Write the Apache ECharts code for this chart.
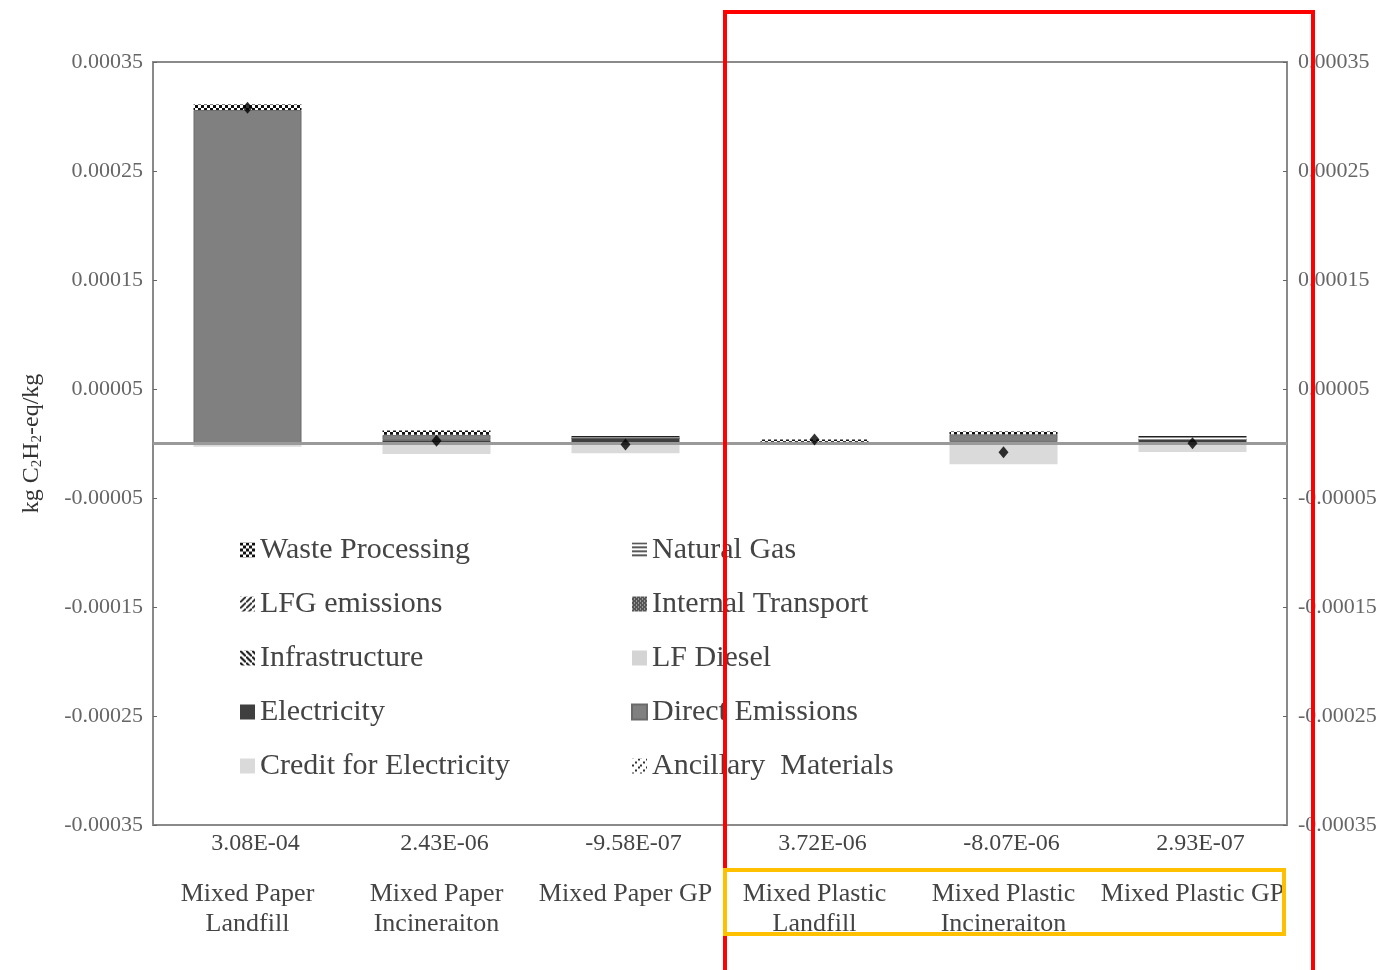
<!DOCTYPE html>
<html><head><meta charset="utf-8">
<script src="https://cdn.jsdelivr.net/npm/echarts@6/dist/echarts.min.js"></script>
<style>html,body{margin:0;padding:0;background:#fff}#c{width:1381px;height:970px}</style>
</head><body><div id="c"></div>
<script>
const categories = ['Mixed Paper\nLandfill','Mixed Paper\nIncineraiton','Mixed Paper GP','Mixed Plastic\nLandfill','Mixed Plastic\nIncineraiton','Mixed Plastic GP'];
const totals = [3.08e-4, 2.43e-6, -9.58e-7, 3.72e-6, -8.07e-6, 2.93e-7];

const electricity        = [0, 3e-6, 5e-6, 0, 1.5e-6, 4e-6];
const directEmissions    = [3.06e-4, 5e-6, 0, 0, 7e-6, 0];
const naturalGas         = [0, 0, 3e-6, 0, 0, 4e-6];
const internalTransport  = [0, 0, 0, 0, 0, 0];
const infrastructure     = [0, 0, 0, 1.52e-6, 0, 0];
const lfgEmissions       = [0, 0, 0, 0, 0, 0];
const wasteProcessing    = [5e-6, 4e-6, 0, 2.2e-6, 2.5e-6, 0];
const ancillaryMaterials = [0, 0, 0, 0, 0, 0];
const lfDiesel           = [0, 0, 0, 0, 0, 0];
const creditElectricity  = [-3e-6, -9.57e-6, -8.958e-6, 0, -1.907e-5, -7.707e-6];

const yMin = -0.00035, yMax = 0.00035, yStep = 0.0001;

function pat(size, draw){
  const c = document.createElement('canvas'); c.width = c.height = size;
  const g = c.getContext('2d'); draw(g, size);
  return {image: c, repeat: 'repeat'};
}
const P = {
  waste: pat(6, (g)=>{g.fillStyle='#fff';g.fillRect(0,0,6,6);g.fillStyle='#111';g.fillRect(0,0,3,3);g.fillRect(3,3,3,3);}),
  lfg: pat(6, (g)=>{g.fillStyle='#fff';g.fillRect(0,0,6,6);g.strokeStyle='#111';g.lineWidth=1.6;g.beginPath();g.moveTo(0,6);g.lineTo(6,0);g.stroke();}),
  infra: pat(6, (g)=>{g.fillStyle='#fff';g.fillRect(0,0,6,6);g.strokeStyle='#111';g.lineWidth=2;g.beginPath();g.moveTo(0,0);g.lineTo(6,6);g.stroke();}),
  gas: pat(4, (g)=>{g.fillStyle='#fff';g.fillRect(0,0,4,4);g.fillStyle='#222';g.fillRect(0,0,4,1.5);}),
  transport: pat(4, (g)=>{g.fillStyle='#555';g.fillRect(0,0,4,4);g.fillStyle='#ddd';g.fillRect(0,0,1,1);g.fillRect(2,2,1,1);}),
  ancillary: pat(8, (g)=>{g.fillStyle='#fff';g.fillRect(0,0,8,8);g.fillStyle='#333';g.fillRect(0,6,2,2);g.fillRect(3,3,2,2);g.fillRect(6,0,2,2);})
};

function fmtExp(v){
  const s = v.toExponential(2).toUpperCase();
  return s.replace(/E([+-])(\d)$/, 'E$10$2');
}

const serif = 'Liberation Serif';
function bar(name, data, color, extra){
  return Object.assign({
    name, type: 'bar', stack: 'total', data, barWidth: 108,
    itemStyle: {color}, emphasis: {disabled: true}
  }, extra || {});
}

const series = [
  bar('Electricity', electricity, '#3f3f3f'),
  bar('Direct Emissions', directEmissions, '#808080', {itemStyle:{color:'#808080', borderColor:'#6a6a6a', borderWidth:1}}),
  bar('Natural Gas', naturalGas, P.gas),
  bar('Internal Transport', internalTransport, P.transport),
  bar('Infrastructure', infrastructure, P.infra),
  bar('LFG emissions', lfgEmissions, P.lfg),
  bar('Waste Processing', wasteProcessing, P.waste),
  bar('Ancillary  Materials', ancillaryMaterials, P.ancillary),
  bar('LF Diesel', lfDiesel, '#d4d4d4'),
  bar('Credit for Electricity', creditElectricity, '#dadada', {
    markLine: {silent: true, symbol: 'none', label: {show: false},
      lineStyle: {color: '#9a9a9a', width: 3, type: 'solid'}, data: [{yAxis: 0}]}
  }),
  {name: 'Total', type: 'scatter', data: totals, symbol: 'diamond', symbolSize: [10, 12],
   itemStyle: {color: '#000'}, z: 5, emphasis: {disabled: true}}
];

const chart = echarts.init(document.getElementById('c'), null, {renderer: 'canvas'});
const yLabel = {fontFamily: serif, fontSize: 22, color: '#666', formatter: v => v.toFixed(5)};
chart.setOption({
  animation: false,
  backgroundColor: '#fff',
  grid: {left: 153, right: 94, top: 62, bottom: 145, show: true, borderColor: '#8a8a8a', borderWidth: 2},
  xAxis: {
    type: 'category', data: categories,
    axisLine: {show: true, lineStyle: {color: '#8a8a8a', width: 2}},
    axisTick: {show: false},
    axisLabel: {
      interval: 0, margin: 4,
      formatter: (val, i) => '{v|' + fmtExp(totals[i]) + '}\n{g| }\n' + val.split('\n').map(t => '{n|' + t + '}').join('\n'),
      rich: {
        v: {fontFamily: serif, fontSize: 24, color: '#444', lineHeight: 30, padding: [0, 0, 0, 16]},
        g: {fontSize: 10, lineHeight: 20},
        n: {fontFamily: serif, fontSize: 26, color: '#444', lineHeight: 30}
      }
    }
  },
  yAxis: [
    {type: 'value', min: yMin, max: yMax, interval: yStep, position: 'left',
     name: 'kg C{s|2}H{s|2}-eq/kg', nameLocation: 'middle', nameGap: 108,
     nameTextStyle: {fontFamily: serif, fontSize: 24, color: '#333',
       rich: {s: {fontFamily: serif, fontSize: 15, color: '#333', padding: [11, 0, 0, 0]}}},
     axisLine: {show: true, lineStyle: {color: '#8a8a8a', width: 2}},
     axisTick: {show: true, inside: true, length: 4, lineStyle: {color: '#666'}},
     splitLine: {show: false},
     axisLabel: Object.assign({margin: 10}, yLabel)},
    {type: 'value', min: yMin, max: yMax, interval: yStep, position: 'right',
     axisLine: {show: true, lineStyle: {color: '#8a8a8a', width: 2}},
     axisTick: {show: true, inside: true, length: 4, lineStyle: {color: '#666'}},
     splitLine: {show: false},
     axisLabel: Object.assign({margin: 11}, yLabel)}
  ],
  legend: [
    {orient: 'vertical', left: 235, top: 530, itemGap: 24, itemWidth: 15, itemHeight: 15, icon: 'rect',
     selectedMode: false,
     textStyle: {fontFamily: serif, fontSize: 30, color: '#444', lineHeight: 30},
     data: ['Waste Processing', 'LFG emissions', 'Infrastructure', 'Electricity', 'Credit for Electricity']},
    {orient: 'vertical', left: 626, top: 530, itemGap: 24, itemWidth: 15, itemHeight: 15, icon: 'rect',
     selectedMode: false,
     textStyle: {fontFamily: serif, fontSize: 30, color: '#444', lineHeight: 30},
     data: ['Natural Gas', 'Internal Transport', 'LF Diesel', 'Direct Emissions', 'Ancillary  Materials']}
  ],
  series,
  graphic: [
    {type: 'rect', z: 100, silent: true, shape: {x: 725, y: 12, width: 588, height: 990},
     style: {fill: 'none', stroke: '#ff0000', lineWidth: 4}},
    {type: 'rect', z: 100, silent: true, shape: {x: 725, y: 870, width: 559, height: 64},
     style: {fill: 'none', stroke: '#ffc000', lineWidth: 4}}
  ]
});
</script></body></html>
